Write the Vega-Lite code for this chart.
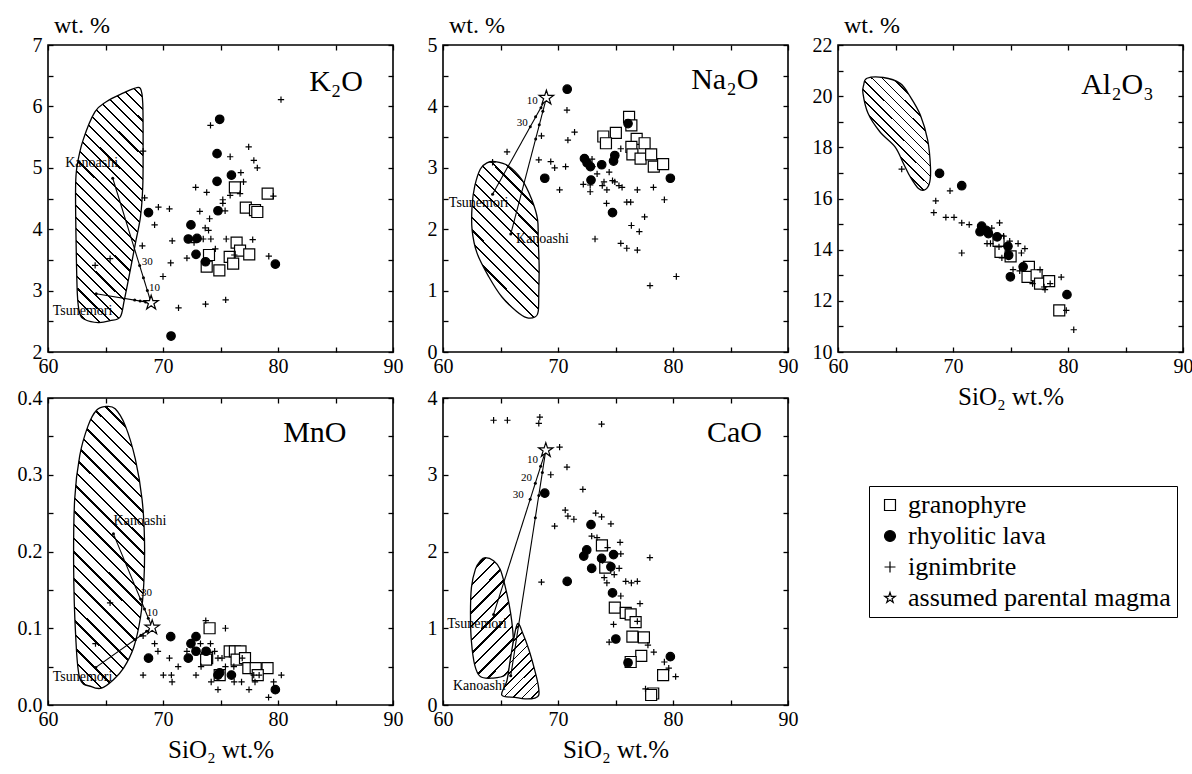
{
"$schema": "https://vega.github.io/schema/vega-lite/v6.json",
"background": "white",
"padding": {"left": 16, "top": 13, "right": 5, "bottom": 5},
"datasets": {
"pts": [
{"p":"K2O","t":"granophyre","x":76.25,"y":4.68},{"p":"K2O","t":"granophyre","x":79.1,"y":4.58},{"p":"K2O","t":"granophyre","x":77.2,"y":4.35},{"p":"K2O","t":"granophyre","x":78.0,"y":4.31},{"p":"K2O","t":"granophyre","x":78.2,"y":4.28},{"p":"K2O","t":"granophyre","x":76.4,"y":3.78},{"p":"K2O","t":"granophyre","x":76.7,"y":3.65},{"p":"K2O","t":"granophyre","x":77.5,"y":3.59},{"p":"K2O","t":"granophyre","x":75.8,"y":3.55},{"p":"K2O","t":"granophyre","x":76.1,"y":3.44},{"p":"K2O","t":"granophyre","x":74.0,"y":3.58},{"p":"K2O","t":"granophyre","x":73.8,"y":3.39},{"p":"K2O","t":"granophyre","x":74.9,"y":3.33},
{"p":"K2O","t":"rhyolitic lava","x":74.93,"y":5.79},{"p":"K2O","t":"rhyolitic lava","x":74.7,"y":5.23},{"p":"K2O","t":"rhyolitic lava","x":75.95,"y":4.88},{"p":"K2O","t":"rhyolitic lava","x":74.7,"y":4.78},{"p":"K2O","t":"rhyolitic lava","x":74.78,"y":4.30},{"p":"K2O","t":"rhyolitic lava","x":68.74,"y":4.27},{"p":"K2O","t":"rhyolitic lava","x":72.43,"y":4.07},{"p":"K2O","t":"rhyolitic lava","x":72.2,"y":3.84},{"p":"K2O","t":"rhyolitic lava","x":72.96,"y":3.85},{"p":"K2O","t":"rhyolitic lava","x":72.87,"y":3.59},{"p":"K2O","t":"rhyolitic lava","x":73.7,"y":3.47},{"p":"K2O","t":"rhyolitic lava","x":79.77,"y":3.43},{"p":"K2O","t":"rhyolitic lava","x":70.7,"y":2.26},
{"p":"K2O","t":"ignimbrite","x":80.26,"y":6.11},{"p":"K2O","t":"ignimbrite","x":74.13,"y":5.69},{"p":"K2O","t":"ignimbrite","x":77.45,"y":5.34},{"p":"K2O","t":"ignimbrite","x":75.84,"y":5.18},{"p":"K2O","t":"ignimbrite","x":77.9,"y":5.12},{"p":"K2O","t":"ignimbrite","x":78.2,"y":5.0},{"p":"K2O","t":"ignimbrite","x":76.77,"y":4.92},{"p":"K2O","t":"ignimbrite","x":77.0,"y":4.77},{"p":"K2O","t":"ignimbrite","x":72.84,"y":4.68},{"p":"K2O","t":"ignimbrite","x":73.8,"y":4.60},{"p":"K2O","t":"ignimbrite","x":76.7,"y":4.58},{"p":"K2O","t":"ignimbrite","x":75.84,"y":4.55},{"p":"K2O","t":"ignimbrite","x":75.2,"y":4.48},{"p":"K2O","t":"ignimbrite","x":75.2,"y":4.42},{"p":"K2O","t":"ignimbrite","x":79.6,"y":4.54},{"p":"K2O","t":"ignimbrite","x":68.4,"y":4.51},{"p":"K2O","t":"ignimbrite","x":69.6,"y":4.36},{"p":"K2O","t":"ignimbrite","x":70.56,"y":4.33},{"p":"K2O","t":"ignimbrite","x":73.2,"y":4.29},{"p":"K2O","t":"ignimbrite","x":75.4,"y":4.30},{"p":"K2O","t":"ignimbrite","x":69.27,"y":4.07},{"p":"K2O","t":"ignimbrite","x":74.05,"y":4.17},{"p":"K2O","t":"ignimbrite","x":73.67,"y":4.02},{"p":"K2O","t":"ignimbrite","x":73.96,"y":3.98},{"p":"K2O","t":"ignimbrite","x":74.16,"y":3.84},{"p":"K2O","t":"ignimbrite","x":73.5,"y":3.84},{"p":"K2O","t":"ignimbrite","x":75.5,"y":3.84},{"p":"K2O","t":"ignimbrite","x":77.8,"y":3.83},{"p":"K2O","t":"ignimbrite","x":70.8,"y":3.81},{"p":"K2O","t":"ignimbrite","x":68.2,"y":3.73},{"p":"K2O","t":"ignimbrite","x":72.7,"y":3.78},{"p":"K2O","t":"ignimbrite","x":74.55,"y":3.68},{"p":"K2O","t":"ignimbrite","x":72.08,"y":3.53},{"p":"K2O","t":"ignimbrite","x":76.2,"y":3.58},{"p":"K2O","t":"ignimbrite","x":79.2,"y":3.56},{"p":"K2O","t":"ignimbrite","x":70.67,"y":3.45},{"p":"K2O","t":"ignimbrite","x":65.4,"y":3.52},{"p":"K2O","t":"ignimbrite","x":64.1,"y":3.41},{"p":"K2O","t":"ignimbrite","x":70.0,"y":3.23},{"p":"K2O","t":"ignimbrite","x":73.7,"y":2.78},{"p":"K2O","t":"ignimbrite","x":75.45,"y":2.85},{"p":"K2O","t":"ignimbrite","x":71.35,"y":2.72},{"p":"K2O","t":"ignimbrite","x":68.27,"y":5.27},
{"p":"K2O","t":"assumed parental magma","x":68.97,"y":2.80},
{"p":"Na2O","t":"granophyre","x":76.18,"y":3.83},{"p":"Na2O","t":"granophyre","x":76.38,"y":3.69},{"p":"Na2O","t":"granophyre","x":73.94,"y":3.51},{"p":"Na2O","t":"granophyre","x":75.03,"y":3.57},{"p":"Na2O","t":"granophyre","x":74.17,"y":3.40},{"p":"Na2O","t":"granophyre","x":76.84,"y":3.47},{"p":"Na2O","t":"granophyre","x":77.53,"y":3.40},{"p":"Na2O","t":"granophyre","x":76.38,"y":3.34},{"p":"Na2O","t":"granophyre","x":76.47,"y":3.22},{"p":"Na2O","t":"granophyre","x":77.18,"y":3.15},{"p":"Na2O","t":"granophyre","x":78.1,"y":3.22},{"p":"Na2O","t":"granophyre","x":78.33,"y":3.02},{"p":"Na2O","t":"granophyre","x":79.14,"y":3.06},
{"p":"Na2O","t":"rhyolitic lava","x":70.8,"y":4.28},{"p":"Na2O","t":"rhyolitic lava","x":76.09,"y":3.72},{"p":"Na2O","t":"rhyolitic lava","x":72.3,"y":3.15},{"p":"Na2O","t":"rhyolitic lava","x":72.53,"y":3.08},{"p":"Na2O","t":"rhyolitic lava","x":72.82,"y":3.02},{"p":"Na2O","t":"rhyolitic lava","x":73.8,"y":3.05},{"p":"Na2O","t":"rhyolitic lava","x":74.94,"y":3.20},{"p":"Na2O","t":"rhyolitic lava","x":74.83,"y":3.11},{"p":"Na2O","t":"rhyolitic lava","x":68.85,"y":2.83},{"p":"Na2O","t":"rhyolitic lava","x":72.87,"y":2.80},{"p":"Na2O","t":"rhyolitic lava","x":74.74,"y":2.27},{"p":"Na2O","t":"rhyolitic lava","x":79.77,"y":2.83},
{"p":"Na2O","t":"ignimbrite","x":70.78,"y":3.94},{"p":"Na2O","t":"ignimbrite","x":70.86,"y":3.45},{"p":"Na2O","t":"ignimbrite","x":71.44,"y":3.58},{"p":"Na2O","t":"ignimbrite","x":68.56,"y":3.52},{"p":"Na2O","t":"ignimbrite","x":68.33,"y":3.13},{"p":"Na2O","t":"ignimbrite","x":69.37,"y":3.10},{"p":"Na2O","t":"ignimbrite","x":69.71,"y":3.0},{"p":"Na2O","t":"ignimbrite","x":70.66,"y":3.02},{"p":"Na2O","t":"ignimbrite","x":70.14,"y":2.64},{"p":"Na2O","t":"ignimbrite","x":65.57,"y":3.26},{"p":"Na2O","t":"ignimbrite","x":64.31,"y":3.09},{"p":"Na2O","t":"ignimbrite","x":72.96,"y":3.14},{"p":"Na2O","t":"ignimbrite","x":73.0,"y":3.02},{"p":"Na2O","t":"ignimbrite","x":72.2,"y":2.73},{"p":"Na2O","t":"ignimbrite","x":72.8,"y":2.72},{"p":"Na2O","t":"ignimbrite","x":72.8,"y":2.61},{"p":"Na2O","t":"ignimbrite","x":73.4,"y":2.90},{"p":"Na2O","t":"ignimbrite","x":74.45,"y":2.93},{"p":"Na2O","t":"ignimbrite","x":74.0,"y":2.77},{"p":"Na2O","t":"ignimbrite","x":73.85,"y":2.71},{"p":"Na2O","t":"ignimbrite","x":74.25,"y":2.64},{"p":"Na2O","t":"ignimbrite","x":74.74,"y":2.79},{"p":"Na2O","t":"ignimbrite","x":74.94,"y":2.77},{"p":"Na2O","t":"ignimbrite","x":75.3,"y":2.71},{"p":"Na2O","t":"ignimbrite","x":75.57,"y":2.68},{"p":"Na2O","t":"ignimbrite","x":75.46,"y":3.31},{"p":"Na2O","t":"ignimbrite","x":74.22,"y":2.42},{"p":"Na2O","t":"ignimbrite","x":75.98,"y":2.44},{"p":"Na2O","t":"ignimbrite","x":76.32,"y":2.44},{"p":"Na2O","t":"ignimbrite","x":76.9,"y":2.64},{"p":"Na2O","t":"ignimbrite","x":78.3,"y":2.68},{"p":"Na2O","t":"ignimbrite","x":79.25,"y":2.48},{"p":"Na2O","t":"ignimbrite","x":77.53,"y":2.20},{"p":"Na2O","t":"ignimbrite","x":76.38,"y":2.06},{"p":"Na2O","t":"ignimbrite","x":77.07,"y":1.96},{"p":"Na2O","t":"ignimbrite","x":73.22,"y":1.84},{"p":"Na2O","t":"ignimbrite","x":75.46,"y":1.77},{"p":"Na2O","t":"ignimbrite","x":75.98,"y":1.69},{"p":"Na2O","t":"ignimbrite","x":76.9,"y":1.66},{"p":"Na2O","t":"ignimbrite","x":80.29,"y":1.23},{"p":"Na2O","t":"ignimbrite","x":78.0,"y":1.08},
{"p":"Na2O","t":"assumed parental magma","x":68.99,"y":4.14},
{"p":"Al2O3","t":"granophyre","x":73.96,"y":14.34},{"p":"Al2O3","t":"granophyre","x":74.13,"y":13.91},{"p":"Al2O3","t":"granophyre","x":75.01,"y":13.74},{"p":"Al2O3","t":"granophyre","x":76.6,"y":13.33},{"p":"Al2O3","t":"granophyre","x":76.48,"y":12.94},{"p":"Al2O3","t":"granophyre","x":77.27,"y":13.0},{"p":"Al2O3","t":"granophyre","x":77.57,"y":12.67},{"p":"Al2O3","t":"granophyre","x":78.36,"y":12.77},{"p":"Al2O3","t":"granophyre","x":79.24,"y":11.63},
{"p":"Al2O3","t":"rhyolitic lava","x":68.83,"y":16.98},{"p":"Al2O3","t":"rhyolitic lava","x":70.76,"y":16.50},{"p":"Al2O3","t":"rhyolitic lava","x":72.49,"y":14.92},{"p":"Al2O3","t":"rhyolitic lava","x":72.35,"y":14.70},{"p":"Al2O3","t":"rhyolitic lava","x":72.87,"y":14.76},{"p":"Al2O3","t":"rhyolitic lava","x":73.08,"y":14.63},{"p":"Al2O3","t":"rhyolitic lava","x":73.84,"y":14.50},{"p":"Al2O3","t":"rhyolitic lava","x":74.78,"y":14.13},{"p":"Al2O3","t":"rhyolitic lava","x":74.84,"y":13.78},{"p":"Al2O3","t":"rhyolitic lava","x":74.99,"y":12.94},{"p":"Al2O3","t":"rhyolitic lava","x":76.1,"y":13.33},{"p":"Al2O3","t":"rhyolitic lava","x":79.91,"y":12.24},
{"p":"Al2O3","t":"ignimbrite","x":65.54,"y":17.15},{"p":"Al2O3","t":"ignimbrite","x":69.74,"y":16.30},{"p":"Al2O3","t":"ignimbrite","x":68.5,"y":15.91},{"p":"Al2O3","t":"ignimbrite","x":68.33,"y":15.45},{"p":"Al2O3","t":"ignimbrite","x":69.38,"y":15.26},{"p":"Al2O3","t":"ignimbrite","x":70.09,"y":15.26},{"p":"Al2O3","t":"ignimbrite","x":70.76,"y":15.05},{"p":"Al2O3","t":"ignimbrite","x":71.41,"y":14.98},{"p":"Al2O3","t":"ignimbrite","x":70.76,"y":13.87},{"p":"Al2O3","t":"ignimbrite","x":73.37,"y":14.84},{"p":"Al2O3","t":"ignimbrite","x":74.05,"y":15.05},{"p":"Al2O3","t":"ignimbrite","x":72.96,"y":14.24},{"p":"Al2O3","t":"ignimbrite","x":73.26,"y":14.24},{"p":"Al2O3","t":"ignimbrite","x":74.4,"y":14.53},{"p":"Al2O3","t":"ignimbrite","x":74.93,"y":14.33},{"p":"Al2O3","t":"ignimbrite","x":74.0,"y":14.11},{"p":"Al2O3","t":"ignimbrite","x":74.25,"y":13.68},{"p":"Al2O3","t":"ignimbrite","x":75.66,"y":14.24},{"p":"Al2O3","t":"ignimbrite","x":76.25,"y":14.04},{"p":"Al2O3","t":"ignimbrite","x":75.95,"y":13.87},{"p":"Al2O3","t":"ignimbrite","x":75.22,"y":13.22},{"p":"Al2O3","t":"ignimbrite","x":75.8,"y":13.17},{"p":"Al2O3","t":"ignimbrite","x":77.57,"y":13.22},{"p":"Al2O3","t":"ignimbrite","x":76.92,"y":12.67},{"p":"Al2O3","t":"ignimbrite","x":77.92,"y":12.54},{"p":"Al2O3","t":"ignimbrite","x":78.45,"y":12.67},{"p":"Al2O3","t":"ignimbrite","x":79.41,"y":12.93},{"p":"Al2O3","t":"ignimbrite","x":79.85,"y":11.63},{"p":"Al2O3","t":"ignimbrite","x":80.5,"y":10.87},{"p":"Al2O3","t":"ignimbrite","x":78.0,"y":12.44},
{"p":"MnO","t":"granophyre","x":74.05,"y":0.100},{"p":"MnO","t":"granophyre","x":75.8,"y":0.070},{"p":"MnO","t":"granophyre","x":76.25,"y":0.070},{"p":"MnO","t":"granophyre","x":76.74,"y":0.070},{"p":"MnO","t":"granophyre","x":73.84,"y":0.061},{"p":"MnO","t":"granophyre","x":76.4,"y":0.059},{"p":"MnO","t":"granophyre","x":77.13,"y":0.061},{"p":"MnO","t":"granophyre","x":77.42,"y":0.048},{"p":"MnO","t":"granophyre","x":78.06,"y":0.048},{"p":"MnO","t":"granophyre","x":79.09,"y":0.048},{"p":"MnO","t":"granophyre","x":78.24,"y":0.039},{"p":"MnO","t":"granophyre","x":74.93,"y":0.039},{"p":"MnO","t":"granophyre","x":73.75,"y":0.059},
{"p":"MnO","t":"rhyolitic lava","x":70.67,"y":0.089},{"p":"MnO","t":"rhyolitic lava","x":72.87,"y":0.089},{"p":"MnO","t":"rhyolitic lava","x":72.43,"y":0.080},{"p":"MnO","t":"rhyolitic lava","x":72.87,"y":0.070},{"p":"MnO","t":"rhyolitic lava","x":73.75,"y":0.070},{"p":"MnO","t":"rhyolitic lava","x":72.2,"y":0.061},{"p":"MnO","t":"rhyolitic lava","x":68.74,"y":0.061},{"p":"MnO","t":"rhyolitic lava","x":74.78,"y":0.039},{"p":"MnO","t":"rhyolitic lava","x":75.95,"y":0.039},{"p":"MnO","t":"rhyolitic lava","x":79.77,"y":0.020},{"p":"MnO","t":"rhyolitic lava","x":74.93,"y":0.042},
{"p":"MnO","t":"ignimbrite","x":73.72,"y":0.110},{"p":"MnO","t":"ignimbrite","x":75.43,"y":0.100},{"p":"MnO","t":"ignimbrite","x":65.4,"y":0.133},{"p":"MnO","t":"ignimbrite","x":64.13,"y":0.080},{"p":"MnO","t":"ignimbrite","x":68.27,"y":0.090},{"p":"MnO","t":"ignimbrite","x":69.27,"y":0.080},{"p":"MnO","t":"ignimbrite","x":69.56,"y":0.070},{"p":"MnO","t":"ignimbrite","x":70.56,"y":0.061},{"p":"MnO","t":"ignimbrite","x":71.32,"y":0.050},{"p":"MnO","t":"ignimbrite","x":68.27,"y":0.039},{"p":"MnO","t":"ignimbrite","x":70.03,"y":0.039},{"p":"MnO","t":"ignimbrite","x":70.73,"y":0.039},{"p":"MnO","t":"ignimbrite","x":70.79,"y":0.030},{"p":"MnO","t":"ignimbrite","x":72.08,"y":0.070},{"p":"MnO","t":"ignimbrite","x":73.26,"y":0.080},{"p":"MnO","t":"ignimbrite","x":74.13,"y":0.080},{"p":"MnO","t":"ignimbrite","x":74.49,"y":0.070},{"p":"MnO","t":"ignimbrite","x":73.31,"y":0.050},{"p":"MnO","t":"ignimbrite","x":72.87,"y":0.039},{"p":"MnO","t":"ignimbrite","x":74.19,"y":0.030},{"p":"MnO","t":"ignimbrite","x":74.78,"y":0.020},{"p":"MnO","t":"ignimbrite","x":74.78,"y":0.061},{"p":"MnO","t":"ignimbrite","x":75.13,"y":0.061},{"p":"MnO","t":"ignimbrite","x":75.43,"y":0.050},{"p":"MnO","t":"ignimbrite","x":76.16,"y":0.050},{"p":"MnO","t":"ignimbrite","x":76.19,"y":0.030},{"p":"MnO","t":"ignimbrite","x":76.83,"y":0.030},{"p":"MnO","t":"ignimbrite","x":77.48,"y":0.020},{"p":"MnO","t":"ignimbrite","x":78.0,"y":0.030},{"p":"MnO","t":"ignimbrite","x":78.36,"y":0.039},{"p":"MnO","t":"ignimbrite","x":79.18,"y":0.010},{"p":"MnO","t":"ignimbrite","x":79.62,"y":0.030},{"p":"MnO","t":"ignimbrite","x":80.29,"y":0.039},{"p":"MnO","t":"ignimbrite","x":76.89,"y":0.061},{"p":"MnO","t":"ignimbrite","x":77.89,"y":0.039},
{"p":"MnO","t":"assumed parental magma","x":69.06,"y":0.101},
{"p":"CaO","t":"granophyre","x":73.82,"y":2.08},{"p":"CaO","t":"granophyre","x":74.11,"y":1.79},{"p":"CaO","t":"granophyre","x":74.94,"y":1.27},{"p":"CaO","t":"granophyre","x":75.89,"y":1.20},{"p":"CaO","t":"granophyre","x":76.32,"y":1.18},{"p":"CaO","t":"granophyre","x":76.75,"y":1.08},{"p":"CaO","t":"granophyre","x":76.47,"y":0.89},{"p":"CaO","t":"granophyre","x":77.47,"y":0.88},{"p":"CaO","t":"granophyre","x":77.24,"y":0.64},{"p":"CaO","t":"granophyre","x":76.32,"y":0.56},{"p":"CaO","t":"granophyre","x":79.14,"y":0.39},{"p":"CaO","t":"granophyre","x":78.28,"y":0.15},{"p":"CaO","t":"granophyre","x":78.1,"y":0.13},
{"p":"CaO","t":"rhyolitic lava","x":68.85,"y":2.76},{"p":"CaO","t":"rhyolitic lava","x":72.87,"y":2.35},{"p":"CaO","t":"rhyolitic lava","x":72.5,"y":2.02},{"p":"CaO","t":"rhyolitic lava","x":72.24,"y":1.94},{"p":"CaO","t":"rhyolitic lava","x":73.79,"y":1.91},{"p":"CaO","t":"rhyolitic lava","x":74.83,"y":1.96},{"p":"CaO","t":"rhyolitic lava","x":72.93,"y":1.78},{"p":"CaO","t":"rhyolitic lava","x":74.6,"y":1.80},{"p":"CaO","t":"rhyolitic lava","x":70.8,"y":1.61},{"p":"CaO","t":"rhyolitic lava","x":74.74,"y":1.46},{"p":"CaO","t":"rhyolitic lava","x":75.03,"y":0.86},{"p":"CaO","t":"rhyolitic lava","x":76.09,"y":0.55},{"p":"CaO","t":"rhyolitic lava","x":79.77,"y":0.63},
{"p":"CaO","t":"ignimbrite","x":64.4,"y":3.71},{"p":"CaO","t":"ignimbrite","x":65.6,"y":3.71},{"p":"CaO","t":"ignimbrite","x":68.42,"y":3.75},{"p":"CaO","t":"ignimbrite","x":68.33,"y":3.67},{"p":"CaO","t":"ignimbrite","x":73.79,"y":3.66},{"p":"CaO","t":"ignimbrite","x":70.14,"y":3.36},{"p":"CaO","t":"ignimbrite","x":70.78,"y":3.10},{"p":"CaO","t":"ignimbrite","x":69.37,"y":3.0},{"p":"CaO","t":"ignimbrite","x":72.16,"y":2.81},{"p":"CaO","t":"ignimbrite","x":70.63,"y":2.54},{"p":"CaO","t":"ignimbrite","x":70.86,"y":2.46},{"p":"CaO","t":"ignimbrite","x":71.38,"y":2.42},{"p":"CaO","t":"ignimbrite","x":69.71,"y":2.33},{"p":"CaO","t":"ignimbrite","x":73.28,"y":2.50},{"p":"CaO","t":"ignimbrite","x":73.79,"y":2.45},{"p":"CaO","t":"ignimbrite","x":74.6,"y":2.36},{"p":"CaO","t":"ignimbrite","x":72.93,"y":2.20},{"p":"CaO","t":"ignimbrite","x":73.39,"y":2.18},{"p":"CaO","t":"ignimbrite","x":75.4,"y":2.12},{"p":"CaO","t":"ignimbrite","x":74.31,"y":2.05},{"p":"CaO","t":"ignimbrite","x":75.46,"y":1.97},{"p":"CaO","t":"ignimbrite","x":77.99,"y":1.92},{"p":"CaO","t":"ignimbrite","x":68.56,"y":1.60},{"p":"CaO","t":"ignimbrite","x":73.88,"y":1.88},{"p":"CaO","t":"ignimbrite","x":75.32,"y":1.78},{"p":"CaO","t":"ignimbrite","x":74.89,"y":1.70},{"p":"CaO","t":"ignimbrite","x":74.02,"y":1.66},{"p":"CaO","t":"ignimbrite","x":74.25,"y":1.59},{"p":"CaO","t":"ignimbrite","x":75.89,"y":1.61},{"p":"CaO","t":"ignimbrite","x":76.38,"y":1.59},{"p":"CaO","t":"ignimbrite","x":76.9,"y":1.61},{"p":"CaO","t":"ignimbrite","x":75.46,"y":1.42},{"p":"CaO","t":"ignimbrite","x":77.13,"y":1.32},{"p":"CaO","t":"ignimbrite","x":74.83,"y":1.05},{"p":"CaO","t":"ignimbrite","x":76.9,"y":1.09},{"p":"CaO","t":"ignimbrite","x":74.45,"y":0.82},{"p":"CaO","t":"ignimbrite","x":77.82,"y":0.78},{"p":"CaO","t":"ignimbrite","x":78.33,"y":0.69},{"p":"CaO","t":"ignimbrite","x":79.25,"y":0.56},{"p":"CaO","t":"ignimbrite","x":79.63,"y":0.48},{"p":"CaO","t":"ignimbrite","x":80.23,"y":0.37},{"p":"CaO","t":"ignimbrite","x":77.61,"y":0.21},
{"p":"CaO","t":"assumed parental magma","x":68.94,"y":3.32}
],
"poly": [
{"g":"K2O","i":1,"x":68.04,"y":6.29},{"g":"K2O","i":2,"x":68.24,"y":6.05},{"g":"K2O","i":3,"x":68.27,"y":5.29},{"g":"K2O","i":4,"x":68.24,"y":4.69},{"g":"K2O","i":5,"x":68.04,"y":4.20},{"g":"K2O","i":6,"x":67.6,"y":3.77},{"g":"K2O","i":7,"x":67.1,"y":3.28},{"g":"K2O","i":8,"x":66.63,"y":2.84},{"g":"K2O","i":9,"x":66.28,"y":2.57},{"g":"K2O","i":10,"x":65.4,"y":2.51},{"g":"K2O","i":11,"x":64.37,"y":2.48},{"g":"K2O","i":12,"x":63.2,"y":2.53},{"g":"K2O","i":13,"x":62.76,"y":2.63},{"g":"K2O","i":14,"x":62.55,"y":2.95},{"g":"K2O","i":15,"x":62.43,"y":3.93},{"g":"K2O","i":16,"x":62.4,"y":4.69},{"g":"K2O","i":17,"x":62.52,"y":5.02},{"g":"K2O","i":18,"x":63.05,"y":5.45},{"g":"K2O","i":19,"x":64.08,"y":5.91},{"g":"K2O","i":20,"x":65.1,"y":6.08},{"g":"K2O","i":21,"x":66.57,"y":6.22},{"g":"K2O","i":22,"x":67.45,"y":6.29},
{"g":"Na2O","i":1,"x":64.54,"y":3.10},{"g":"Na2O","i":2,"x":65.69,"y":3.03},{"g":"Na2O","i":3,"x":66.84,"y":2.81},{"g":"Na2O","i":4,"x":67.70,"y":2.49},{"g":"Na2O","i":5,"x":68.22,"y":2.16},{"g":"Na2O","i":6,"x":68.28,"y":1.83},{"g":"Na2O","i":7,"x":68.36,"y":1.39},{"g":"Na2O","i":8,"x":68.33,"y":0.96},{"g":"Na2O","i":9,"x":68.28,"y":0.66},{"g":"Na2O","i":10,"x":67.99,"y":0.57},{"g":"Na2O","i":11,"x":67.27,"y":0.56},{"g":"Na2O","i":12,"x":66.41,"y":0.66},{"g":"Na2O","i":13,"x":65.11,"y":0.90},{"g":"Na2O","i":14,"x":63.97,"y":1.23},{"g":"Na2O","i":15,"x":62.96,"y":1.61},{"g":"Na2O","i":16,"x":62.53,"y":1.99},{"g":"Na2O","i":17,"x":62.53,"y":2.38},{"g":"Na2O","i":18,"x":62.76,"y":2.70},{"g":"Na2O","i":19,"x":63.25,"y":2.98},{"g":"Na2O","i":20,"x":63.82,"y":3.08},
{"g":"Al2O3","i":1,"x":62.52,"y":20.70},{"g":"Al2O3","i":2,"x":63.93,"y":20.73},{"g":"Al2O3","i":3,"x":65.4,"y":20.5},{"g":"Al2O3","i":4,"x":66.28,"y":19.98},{"g":"Al2O3","i":5,"x":67.16,"y":19.26},{"g":"Al2O3","i":6,"x":67.8,"y":18.28},{"g":"Al2O3","i":7,"x":68.04,"y":17.24},{"g":"Al2O3","i":8,"x":67.98,"y":16.65},{"g":"Al2O3","i":9,"x":67.6,"y":16.35},{"g":"Al2O3","i":10,"x":67.0,"y":16.39},{"g":"Al2O3","i":11,"x":66.28,"y":16.85},{"g":"Al2O3","i":12,"x":65.69,"y":17.37},{"g":"Al2O3","i":13,"x":64.96,"y":18.02},{"g":"Al2O3","i":14,"x":63.64,"y":18.61},{"g":"Al2O3","i":15,"x":62.61,"y":19.33},{"g":"Al2O3","i":16,"x":62.17,"y":20.11},{"g":"Al2O3","i":17,"x":62.23,"y":20.43},
{"g":"MnO","i":1,"x":65.04,"y":0.389},{"g":"MnO","i":2,"x":65.84,"y":0.386},{"g":"MnO","i":3,"x":66.72,"y":0.364},{"g":"MnO","i":4,"x":67.6,"y":0.320},{"g":"MnO","i":5,"x":68.18,"y":0.268},{"g":"MnO","i":6,"x":68.39,"y":0.215},{"g":"MnO","i":7,"x":68.33,"y":0.158},{"g":"MnO","i":8,"x":68.04,"y":0.114},{"g":"MnO","i":9,"x":67.45,"y":0.075},{"g":"MnO","i":10,"x":66.57,"y":0.048},{"g":"MnO","i":11,"x":65.69,"y":0.033},{"g":"MnO","i":12,"x":64.66,"y":0.022},{"g":"MnO","i":13,"x":63.78,"y":0.024},{"g":"MnO","i":14,"x":62.76,"y":0.035},{"g":"MnO","i":15,"x":62.4,"y":0.092},{"g":"MnO","i":16,"x":62.23,"y":0.180},{"g":"MnO","i":17,"x":62.32,"y":0.268},{"g":"MnO","i":18,"x":62.76,"y":0.325},{"g":"MnO","i":19,"x":63.49,"y":0.364},{"g":"MnO","i":20,"x":64.22,"y":0.384},
{"g":"CaO-T","i":1,"x":63.68,"y":1.92},{"g":"CaO-T","i":2,"x":64.40,"y":1.88},{"g":"CaO-T","i":3,"x":64.97,"y":1.77},{"g":"CaO-T","i":4,"x":65.40,"y":1.55},{"g":"CaO-T","i":5,"x":65.75,"y":1.31},{"g":"CaO-T","i":6,"x":65.98,"y":1.09},{"g":"CaO-T","i":7,"x":66.12,"y":0.83},{"g":"CaO-T","i":8,"x":65.98,"y":0.57},{"g":"CaO-T","i":9,"x":65.40,"y":0.39},{"g":"CaO-T","i":10,"x":64.25,"y":0.35},{"g":"CaO-T","i":11,"x":63.25,"y":0.37},{"g":"CaO-T","i":12,"x":62.76,"y":0.52},{"g":"CaO-T","i":13,"x":62.47,"y":0.83},{"g":"CaO-T","i":14,"x":62.39,"y":1.18},{"g":"CaO-T","i":15,"x":62.47,"y":1.53},{"g":"CaO-T","i":16,"x":62.82,"y":1.77},{"g":"CaO-T","i":17,"x":63.25,"y":1.88},
{"g":"CaO-K","i":1,"x":66.49,"y":1.06},{"g":"CaO-K","i":2,"x":66.98,"y":0.92},{"g":"CaO-K","i":3,"x":67.47,"y":0.72},{"g":"CaO-K","i":4,"x":67.93,"y":0.48},{"g":"CaO-K","i":5,"x":68.28,"y":0.26},{"g":"CaO-K","i":6,"x":68.33,"y":0.13},{"g":"CaO-K","i":7,"x":67.99,"y":0.09},{"g":"CaO-K","i":8,"x":67.13,"y":0.08},{"g":"CaO-K","i":9,"x":66.26,"y":0.10},{"g":"CaO-K","i":10,"x":65.11,"y":0.13},{"g":"CaO-K","i":11,"x":65.55,"y":0.31},{"g":"CaO-K","i":12,"x":65.83,"y":0.57},{"g":"CaO-K","i":13,"x":66.12,"y":0.83}
],
"mix": [
{"p":"K2O","x":68.97,"y":2.80,"x2":65.63,"y2":4.83},{"p":"K2O","x":68.97,"y":2.80,"x2":64.19,"y2":2.95},
{"p":"Na2O","x":68.99,"y":4.14,"x2":64.31,"y2":2.57},{"p":"Na2O","x":68.99,"y":4.14,"x2":65.89,"y2":1.92},
{"p":"MnO","x":69.06,"y":0.101,"x2":65.69,"y2":0.223},{"p":"MnO","x":69.06,"y":0.101,"x2":64.16,"y2":0.049},
{"p":"CaO","x":68.94,"y":3.32,"x2":64.4,"y2":1.18},{"p":"CaO","x":68.94,"y":3.32,"x2":65.89,"y2":0.38}
],
"dots": [
{"p":"K2O","x":65.63,"y":4.83},{"p":"K2O","x":64.19,"y":2.95},{"p":"K2O","x":68.64,"y":3.00},{"p":"K2O","x":68.30,"y":3.21},{"p":"K2O","x":67.97,"y":3.41},{"p":"K2O","x":68.49,"y":2.815},{"p":"K2O","x":68.01,"y":2.83},{"p":"K2O","x":67.54,"y":2.845},
{"p":"Na2O","x":64.31,"y":2.57},{"p":"Na2O","x":65.89,"y":1.92},{"p":"Na2O","x":68.52,"y":3.98},{"p":"Na2O","x":68.05,"y":3.83},{"p":"Na2O","x":67.59,"y":3.67},{"p":"Na2O","x":68.68,"y":3.92},{"p":"Na2O","x":68.37,"y":3.70},{"p":"Na2O","x":68.06,"y":3.47},
{"p":"MnO","x":65.69,"y":0.223},{"p":"MnO","x":64.16,"y":0.049},{"p":"MnO","x":68.72,"y":0.113},{"p":"MnO","x":68.39,"y":0.125},{"p":"MnO","x":68.05,"y":0.138},{"p":"MnO","x":68.57,"y":0.096},{"p":"MnO","x":68.08,"y":0.091},{"p":"MnO","x":67.59,"y":0.085},
{"p":"CaO","x":64.4,"y":1.18},{"p":"CaO","x":65.89,"y":0.38},{"p":"CaO","x":68.49,"y":3.11},{"p":"CaO","x":68.03,"y":2.89},{"p":"CaO","x":67.58,"y":2.68},{"p":"CaO","x":68.64,"y":3.03},{"p":"CaO","x":68.33,"y":2.73},{"p":"CaO","x":68.03,"y":2.44}
],
"lbl": [
{"p":"K2O","k":"name","text":"Kanoashi","x":63.8,"y":5.08},{"p":"K2O","k":"name","text":"Tsunemori","x":63.0,"y":2.67},{"p":"K2O","k":"tick","text":"30","x":68.62,"y":3.47},{"p":"K2O","k":"tick","text":"10","x":69.27,"y":3.05},{"p":"K2O","k":"panel","text":"K₂O","x":85.05,"y":6.39},
{"p":"Na2O","k":"name","text":"Tsunemori","x":63.1,"y":2.42},{"p":"Na2O","k":"name","text":"Kanoashi","x":68.65,"y":1.84},{"p":"Na2O","k":"tick","text":"10","x":67.76,"y":4.09},{"p":"Na2O","k":"tick","text":"30","x":66.9,"y":3.73},{"p":"Na2O","k":"panel","text":"Na₂O","x":84.5,"y":4.43},
{"p":"Al2O3","k":"panel","text":"Al₂O₃","x":84.3,"y":20.43},
{"p":"MnO","k":"name","text":"Kanoashi","x":68.0,"y":0.240},{"p":"MnO","k":"name","text":"Tsunemori","x":63.0,"y":0.036},{"p":"MnO","k":"tick","text":"30","x":68.56,"y":0.146},{"p":"MnO","k":"tick","text":"10","x":69.06,"y":0.120},{"p":"MnO","k":"panel","text":"MnO","x":83.2,"y":0.354},
{"p":"CaO","k":"name","text":"Tsunemori","x":62.96,"y":1.06},{"p":"CaO","k":"name","text":"Kanoashi","x":63.16,"y":0.25},{"p":"CaO","k":"tick","text":"10","x":67.79,"y":3.19},{"p":"CaO","k":"tick","text":"20","x":67.27,"y":2.96},{"p":"CaO","k":"tick","text":"30","x":66.55,"y":2.73},{"p":"CaO","k":"panel","text":"CaO","x":85.35,"y":3.54}
]
},
"columns": 3,
"spacing": {"row": 46, "column": 50},
"bounds": "flush",
"resolve": {"scale": {"shape": "shared", "fill": "shared", "stroke": "shared"}, "legend": {"shape": "shared", "fill": "shared", "stroke": "shared"}},
"concat": [
{
"width": 345, "height": 307,
"title": {"text": "wt. %"},
"encoding": {
"x": {"field": "x", "type": "quantitative", "scale": {"domain": [60, 90], "nice": false, "zero": false}, "axis": null},
"y": {"field": "y", "type": "quantitative", "scale": {"domain": [2, 7], "nice": false, "zero": false}, "axis": null}
},
"layer": [
{"data": {"name": "poly"}, "transform": [{"filter": "datum.g === 'K2O'"}],
"mark": {"type": "line", "interpolate": "cardinal-closed", "stroke": "black", "strokeWidth": 1.3,
"fill": {"gradient": "linear", "x1": 0, "y1": 1, "x2": 0.34, "y2": -0.189, "stops": [
{"offset":0,"color":"black"},{"offset":0.0069,"color":"black"},{"offset":0.0069,"color":"white"},{"offset":0.0385,"color":"white"},
{"offset":0.0385,"color":"black"},{"offset":0.0454,"color":"black"},{"offset":0.0454,"color":"white"},{"offset":0.0769,"color":"white"},
{"offset":0.0769,"color":"black"},{"offset":0.0838,"color":"black"},{"offset":0.0838,"color":"white"},{"offset":0.1154,"color":"white"},
{"offset":0.1154,"color":"black"},{"offset":0.1223,"color":"black"},{"offset":0.1223,"color":"white"},{"offset":0.1538,"color":"white"},
{"offset":0.1538,"color":"black"},{"offset":0.1607,"color":"black"},{"offset":0.1607,"color":"white"},{"offset":0.1923,"color":"white"},
{"offset":0.1923,"color":"black"},{"offset":0.1992,"color":"black"},{"offset":0.1992,"color":"white"},{"offset":0.2308,"color":"white"},
{"offset":0.2308,"color":"black"},{"offset":0.2377,"color":"black"},{"offset":0.2377,"color":"white"},{"offset":0.2692,"color":"white"},
{"offset":0.2692,"color":"black"},{"offset":0.2761,"color":"black"},{"offset":0.2761,"color":"white"},{"offset":0.3077,"color":"white"},
{"offset":0.3077,"color":"black"},{"offset":0.3146,"color":"black"},{"offset":0.3146,"color":"white"},{"offset":0.3462,"color":"white"},
{"offset":0.3462,"color":"black"},{"offset":0.3531,"color":"black"},{"offset":0.3531,"color":"white"},{"offset":0.3846,"color":"white"},
{"offset":0.3846,"color":"black"},{"offset":0.3915,"color":"black"},{"offset":0.3915,"color":"white"},{"offset":0.4231,"color":"white"},
{"offset":0.4231,"color":"black"},{"offset":0.4300,"color":"black"},{"offset":0.4300,"color":"white"},{"offset":0.4615,"color":"white"},
{"offset":0.4615,"color":"black"},{"offset":0.4684,"color":"black"},{"offset":0.4684,"color":"white"},{"offset":0.5,"color":"white"},
{"offset":0.5,"color":"black"},{"offset":0.5069,"color":"black"},{"offset":0.5069,"color":"white"},{"offset":0.5385,"color":"white"},
{"offset":0.5385,"color":"black"},{"offset":0.5454,"color":"black"},{"offset":0.5454,"color":"white"},{"offset":0.5769,"color":"white"},
{"offset":0.5769,"color":"black"},{"offset":0.5838,"color":"black"},{"offset":0.5838,"color":"white"},{"offset":0.6154,"color":"white"},
{"offset":0.6154,"color":"black"},{"offset":0.6223,"color":"black"},{"offset":0.6223,"color":"white"},{"offset":0.6538,"color":"white"},
{"offset":0.6538,"color":"black"},{"offset":0.6607,"color":"black"},{"offset":0.6607,"color":"white"},{"offset":0.6923,"color":"white"},
{"offset":0.6923,"color":"black"},{"offset":0.6992,"color":"black"},{"offset":0.6992,"color":"white"},{"offset":0.7308,"color":"white"},
{"offset":0.7308,"color":"black"},{"offset":0.7377,"color":"black"},{"offset":0.7377,"color":"white"},{"offset":0.7692,"color":"white"},
{"offset":0.7692,"color":"black"},{"offset":0.7761,"color":"black"},{"offset":0.7761,"color":"white"},{"offset":0.8077,"color":"white"},
{"offset":0.8077,"color":"black"},{"offset":0.8146,"color":"black"},{"offset":0.8146,"color":"white"},{"offset":0.8462,"color":"white"},
{"offset":0.8462,"color":"black"},{"offset":0.8531,"color":"black"},{"offset":0.8531,"color":"white"},{"offset":0.8846,"color":"white"},
{"offset":0.8846,"color":"black"},{"offset":0.8915,"color":"black"},{"offset":0.8915,"color":"white"},{"offset":0.9231,"color":"white"},
{"offset":0.9231,"color":"black"},{"offset":0.9300,"color":"black"},{"offset":0.9300,"color":"white"},{"offset":0.9615,"color":"white"},
{"offset":0.9615,"color":"black"},{"offset":0.9684,"color":"black"},{"offset":0.9684,"color":"white"},{"offset":1,"color":"white"}]}},
"encoding": {"order": {"field": "i", "type": "quantitative"},
"x": {"field": "x", "type": "quantitative", "scale": {"domain": [60, 90], "nice": false, "zero": false}, "axis": {"orient": "top", "values": [60,65,70,75,80,85,90], "labels": false, "title": null}},
"y": {"field": "y", "type": "quantitative", "scale": {"domain": [2, 7], "nice": false, "zero": false}, "axis": {"orient": "right", "values": [2,2.5,3,3.5,4,4.5,5,5.5,6,6.5,7], "labels": false, "title": null}}}},
{"data": {"name": "mix"}, "transform": [{"filter": "datum.p === 'K2O'"}], "mark": {"type": "rule", "stroke": "black", "strokeWidth": 1.1}, "encoding": {"x2": {"field": "x2"}, "y2": {"field": "y2"}}},
{"data": {"name": "dots"}, "transform": [{"filter": "datum.p === 'K2O'"}], "mark": {"type": "circle", "size": 9, "color": "black", "opacity": 1}},
{"data": {"name": "pts"}, "transform": [{"filter": "datum.p === 'K2O'"}], "mark": {"type": "point", "opacity": 1, "strokeWidth": 1.2},
"encoding": {
"x": {"field": "x", "type": "quantitative", "scale": {"domain": [60, 90], "nice": false, "zero": false}, "axis": {"orient": "bottom", "values": [60,65,70,75,80,85,90], "labelExpr": "datum.value % 10 === 0 ? format(datum.value, 'd') : ''", "title": null}},
"y": {"field": "y", "type": "quantitative", "scale": {"domain": [2, 7], "nice": false, "zero": false}, "axis": {"orient": "left", "values": [2,2.5,3,3.5,4,4.5,5,5.5,6,6.5,7], "labelExpr": "datum.value % 1 === 0 ? format(datum.value, 'd') : ''", "title": null}},
"shape": {"field": "t", "type": "nominal", "scale": {"domain": ["granophyre","rhyolitic lava","ignimbrite","assumed parental magma"], "range": ["square","circle","M-1,0H1M0,-1V1","M0,-1L0.2245,-0.309L0.951,-0.309L0.363,0.118L0.588,0.809L0,0.382L-0.588,0.809L-0.363,0.118L-0.951,-0.309L-0.2245,-0.309Z"]},
"legend": {"title": null, "orient": "none", "legendX": 821, "legendY": 441, "labelLimit": 400}},
"fill": {"field": "t", "type": "nominal", "scale": {"domain": ["granophyre","rhyolitic lava","ignimbrite","assumed parental magma"], "range": ["white","black","black","white"]},
"legend": {"title": null, "orient": "none", "legendX": 821, "legendY": 441, "labelLimit": 400}},
"stroke": {"field": "t", "type": "nominal", "scale": {"domain": ["granophyre","rhyolitic lava","ignimbrite","assumed parental magma"], "range": ["black","black","black","black"]},
"legend": {"title": null, "orient": "none", "legendX": 821, "legendY": 441, "labelLimit": 400}},
"size": {"condition": [{"test": "datum.t === 'granophyre'", "value": 121}, {"test": "datum.t === 'rhyolitic lava'", "value": 72}, {"test": "datum.t === 'ignimbrite'", "value": 40}], "value": 230}}},
{"data": {"name": "lbl"}, "transform": [{"filter": "datum.p === 'K2O' && datum.k === 'name'"}], "mark": {"type": "text", "fontSize": 14, "fill": "black"}, "encoding": {"text": {"field": "text"}}},
{"data": {"name": "lbl"}, "transform": [{"filter": "datum.p === 'K2O' && datum.k === 'tick'"}], "mark": {"type": "text", "fontSize": 11, "fill": "black"}, "encoding": {"text": {"field": "text"}}},
{"data": {"name": "lbl"}, "transform": [{"filter": "datum.p === 'K2O' && datum.k === 'panel'"}], "mark": {"type": "text", "fontSize": 30, "fill": "black"}, "encoding": {"text": {"field": "text"}}}
],
"resolve": {"axis": {"x": "independent", "y": "independent"}}
},
{
"width": 345, "height": 307,
"title": {"text": "wt. %"},
"encoding": {
"x": {"field": "x", "type": "quantitative", "scale": {"domain": [60, 90], "nice": false, "zero": false}, "axis": null},
"y": {"field": "y", "type": "quantitative", "scale": {"domain": [0, 5], "nice": false, "zero": false}, "axis": null}
},
"layer": [
{"data": {"name": "poly"}, "transform": [{"filter": "datum.g === 'Na2O'"}],
"mark": {"type": "line", "interpolate": "cardinal-closed", "stroke": "black", "strokeWidth": 1.3,
"fill": {"gradient": "linear", "x1": 0, "y1": 1, "x2": 0.522, "y2": -0.207, "stops": [
{"offset":0,"color":"black"},{"offset":0.01,"color":"black"},{"offset":0.01,"color":"white"},{"offset":0.0556,"color":"white"},
{"offset":0.0556,"color":"black"},{"offset":0.0656,"color":"black"},{"offset":0.0656,"color":"white"},{"offset":0.1111,"color":"white"},
{"offset":0.1111,"color":"black"},{"offset":0.1211,"color":"black"},{"offset":0.1211,"color":"white"},{"offset":0.1667,"color":"white"},
{"offset":0.1667,"color":"black"},{"offset":0.1767,"color":"black"},{"offset":0.1767,"color":"white"},{"offset":0.2222,"color":"white"},
{"offset":0.2222,"color":"black"},{"offset":0.2322,"color":"black"},{"offset":0.2322,"color":"white"},{"offset":0.2778,"color":"white"},
{"offset":0.2778,"color":"black"},{"offset":0.2878,"color":"black"},{"offset":0.2878,"color":"white"},{"offset":0.3333,"color":"white"},
{"offset":0.3333,"color":"black"},{"offset":0.3433,"color":"black"},{"offset":0.3433,"color":"white"},{"offset":0.3889,"color":"white"},
{"offset":0.3889,"color":"black"},{"offset":0.3989,"color":"black"},{"offset":0.3989,"color":"white"},{"offset":0.4444,"color":"white"},
{"offset":0.4444,"color":"black"},{"offset":0.4544,"color":"black"},{"offset":0.4544,"color":"white"},{"offset":0.5,"color":"white"},
{"offset":0.5,"color":"black"},{"offset":0.51,"color":"black"},{"offset":0.51,"color":"white"},{"offset":0.5556,"color":"white"},
{"offset":0.5556,"color":"black"},{"offset":0.5656,"color":"black"},{"offset":0.5656,"color":"white"},{"offset":0.6111,"color":"white"},
{"offset":0.6111,"color":"black"},{"offset":0.6211,"color":"black"},{"offset":0.6211,"color":"white"},{"offset":0.6667,"color":"white"},
{"offset":0.6667,"color":"black"},{"offset":0.6767,"color":"black"},{"offset":0.6767,"color":"white"},{"offset":0.7222,"color":"white"},
{"offset":0.7222,"color":"black"},{"offset":0.7322,"color":"black"},{"offset":0.7322,"color":"white"},{"offset":0.7778,"color":"white"},
{"offset":0.7778,"color":"black"},{"offset":0.7878,"color":"black"},{"offset":0.7878,"color":"white"},{"offset":0.8333,"color":"white"},
{"offset":0.8333,"color":"black"},{"offset":0.8433,"color":"black"},{"offset":0.8433,"color":"white"},{"offset":0.8889,"color":"white"},
{"offset":0.8889,"color":"black"},{"offset":0.8989,"color":"black"},{"offset":0.8989,"color":"white"},{"offset":0.9444,"color":"white"},
{"offset":0.9444,"color":"black"},{"offset":0.9544,"color":"black"},{"offset":0.9544,"color":"white"},{"offset":1,"color":"white"}]}},
"encoding": {"order": {"field": "i", "type": "quantitative"},
"x": {"field": "x", "type": "quantitative", "scale": {"domain": [60, 90], "nice": false, "zero": false}, "axis": {"orient": "top", "values": [60,65,70,75,80,85,90], "labels": false, "title": null}},
"y": {"field": "y", "type": "quantitative", "scale": {"domain": [0, 5], "nice": false, "zero": false}, "axis": {"orient": "right", "values": [0,0.5,1,1.5,2,2.5,3,3.5,4,4.5,5], "labels": false, "title": null}}}},
{"data": {"name": "mix"}, "transform": [{"filter": "datum.p === 'Na2O'"}], "mark": {"type": "rule", "stroke": "black", "strokeWidth": 1.1}, "encoding": {"x2": {"field": "x2"}, "y2": {"field": "y2"}}},
{"data": {"name": "dots"}, "transform": [{"filter": "datum.p === 'Na2O'"}], "mark": {"type": "circle", "size": 9, "color": "black", "opacity": 1}},
{"data": {"name": "pts"}, "transform": [{"filter": "datum.p === 'Na2O'"}], "mark": {"type": "point", "opacity": 1, "strokeWidth": 1.2},
"encoding": {
"x": {"field": "x", "type": "quantitative", "scale": {"domain": [60, 90], "nice": false, "zero": false}, "axis": {"orient": "bottom", "values": [60,65,70,75,80,85,90], "labelExpr": "datum.value % 10 === 0 ? format(datum.value, 'd') : ''", "title": null}},
"y": {"field": "y", "type": "quantitative", "scale": {"domain": [0, 5], "nice": false, "zero": false}, "axis": {"orient": "left", "values": [0,0.5,1,1.5,2,2.5,3,3.5,4,4.5,5], "labelExpr": "datum.value % 1 === 0 ? format(datum.value, 'd') : ''", "title": null}},
"shape": {"field": "t", "type": "nominal", "scale": {"domain": ["granophyre","rhyolitic lava","ignimbrite","assumed parental magma"], "range": ["square","circle","M-1,0H1M0,-1V1","M0,-1L0.2245,-0.309L0.951,-0.309L0.363,0.118L0.588,0.809L0,0.382L-0.588,0.809L-0.363,0.118L-0.951,-0.309L-0.2245,-0.309Z"]}},
"fill": {"field": "t", "type": "nominal", "scale": {"domain": ["granophyre","rhyolitic lava","ignimbrite","assumed parental magma"], "range": ["white","black","black","white"]}},
"stroke": {"field": "t", "type": "nominal", "scale": {"domain": ["granophyre","rhyolitic lava","ignimbrite","assumed parental magma"], "range": ["black","black","black","black"]}},
"size": {"condition": [{"test": "datum.t === 'granophyre'", "value": 121}, {"test": "datum.t === 'rhyolitic lava'", "value": 72}, {"test": "datum.t === 'ignimbrite'", "value": 40}], "value": 230}}},
{"data": {"name": "lbl"}, "transform": [{"filter": "datum.p === 'Na2O' && datum.k === 'name'"}], "mark": {"type": "text", "fontSize": 14, "fill": "black"}, "encoding": {"text": {"field": "text"}}},
{"data": {"name": "lbl"}, "transform": [{"filter": "datum.p === 'Na2O' && datum.k === 'tick'"}], "mark": {"type": "text", "fontSize": 11, "fill": "black"}, "encoding": {"text": {"field": "text"}}},
{"data": {"name": "lbl"}, "transform": [{"filter": "datum.p === 'Na2O' && datum.k === 'panel'"}], "mark": {"type": "text", "fontSize": 30, "fill": "black"}, "encoding": {"text": {"field": "text"}}}
],
"resolve": {"axis": {"x": "independent", "y": "independent"}}
},
{
"width": 345, "height": 307,
"title": {"text": "wt. %"},
"encoding": {
"x": {"field": "x", "type": "quantitative", "scale": {"domain": [60, 90], "nice": false, "zero": false}, "axis": null},
"y": {"field": "y", "type": "quantitative", "scale": {"domain": [10, 22], "nice": false, "zero": false}, "axis": null}
},
"layer": [
{"data": {"name": "poly"}, "transform": [{"filter": "datum.g === 'Al2O3'"}],
"mark": {"type": "line", "interpolate": "cardinal-closed", "stroke": "black", "strokeWidth": 1.3,
"fill": {"gradient": "linear", "x1": 0, "y1": 1, "x2": 0.703, "y2": -0.177, "stops": [
{"offset":0,"color":"black"},{"offset":0.01,"color":"black"},{"offset":0.01,"color":"white"},{"offset":0.0556,"color":"white"},
{"offset":0.0556,"color":"black"},{"offset":0.0656,"color":"black"},{"offset":0.0656,"color":"white"},{"offset":0.1111,"color":"white"},
{"offset":0.1111,"color":"black"},{"offset":0.1211,"color":"black"},{"offset":0.1211,"color":"white"},{"offset":0.1667,"color":"white"},
{"offset":0.1667,"color":"black"},{"offset":0.1767,"color":"black"},{"offset":0.1767,"color":"white"},{"offset":0.2222,"color":"white"},
{"offset":0.2222,"color":"black"},{"offset":0.2322,"color":"black"},{"offset":0.2322,"color":"white"},{"offset":0.2778,"color":"white"},
{"offset":0.2778,"color":"black"},{"offset":0.2878,"color":"black"},{"offset":0.2878,"color":"white"},{"offset":0.3333,"color":"white"},
{"offset":0.3333,"color":"black"},{"offset":0.3433,"color":"black"},{"offset":0.3433,"color":"white"},{"offset":0.3889,"color":"white"},
{"offset":0.3889,"color":"black"},{"offset":0.3989,"color":"black"},{"offset":0.3989,"color":"white"},{"offset":0.4444,"color":"white"},
{"offset":0.4444,"color":"black"},{"offset":0.4544,"color":"black"},{"offset":0.4544,"color":"white"},{"offset":0.5,"color":"white"},
{"offset":0.5,"color":"black"},{"offset":0.51,"color":"black"},{"offset":0.51,"color":"white"},{"offset":0.5556,"color":"white"},
{"offset":0.5556,"color":"black"},{"offset":0.5656,"color":"black"},{"offset":0.5656,"color":"white"},{"offset":0.6111,"color":"white"},
{"offset":0.6111,"color":"black"},{"offset":0.6211,"color":"black"},{"offset":0.6211,"color":"white"},{"offset":0.6667,"color":"white"},
{"offset":0.6667,"color":"black"},{"offset":0.6767,"color":"black"},{"offset":0.6767,"color":"white"},{"offset":0.7222,"color":"white"},
{"offset":0.7222,"color":"black"},{"offset":0.7322,"color":"black"},{"offset":0.7322,"color":"white"},{"offset":0.7778,"color":"white"},
{"offset":0.7778,"color":"black"},{"offset":0.7878,"color":"black"},{"offset":0.7878,"color":"white"},{"offset":0.8333,"color":"white"},
{"offset":0.8333,"color":"black"},{"offset":0.8433,"color":"black"},{"offset":0.8433,"color":"white"},{"offset":0.8889,"color":"white"},
{"offset":0.8889,"color":"black"},{"offset":0.8989,"color":"black"},{"offset":0.8989,"color":"white"},{"offset":0.9444,"color":"white"},
{"offset":0.9444,"color":"black"},{"offset":0.9544,"color":"black"},{"offset":0.9544,"color":"white"},{"offset":1,"color":"white"}]}},
"encoding": {"order": {"field": "i", "type": "quantitative"},
"x": {"field": "x", "type": "quantitative", "scale": {"domain": [60, 90], "nice": false, "zero": false}, "axis": {"orient": "top", "values": [60,65,70,75,80,85,90], "labels": false, "title": null}},
"y": {"field": "y", "type": "quantitative", "scale": {"domain": [10, 22], "nice": false, "zero": false}, "axis": {"orient": "right", "values": [10,11,12,13,14,15,16,17,18,19,20,21,22], "labels": false, "title": null}}}},
{"data": {"name": "pts"}, "transform": [{"filter": "datum.p === 'Al2O3'"}], "mark": {"type": "point", "opacity": 1, "strokeWidth": 1.2},
"encoding": {
"x": {"field": "x", "type": "quantitative", "scale": {"domain": [60, 90], "nice": false, "zero": false}, "axis": {"orient": "bottom", "values": [60,65,70,75,80,85,90], "labelExpr": "datum.value % 10 === 0 ? format(datum.value, 'd') : ''", "title": "SiO₂ wt.%"}},
"y": {"field": "y", "type": "quantitative", "scale": {"domain": [10, 22], "nice": false, "zero": false}, "axis": {"orient": "left", "values": [10,11,12,13,14,15,16,17,18,19,20,21,22], "labelExpr": "datum.value % 2 === 0 ? format(datum.value, 'd') : ''", "title": null}},
"shape": {"field": "t", "type": "nominal", "scale": {"domain": ["granophyre","rhyolitic lava","ignimbrite","assumed parental magma"], "range": ["square","circle","M-1,0H1M0,-1V1","M0,-1L0.2245,-0.309L0.951,-0.309L0.363,0.118L0.588,0.809L0,0.382L-0.588,0.809L-0.363,0.118L-0.951,-0.309L-0.2245,-0.309Z"]}},
"fill": {"field": "t", "type": "nominal", "scale": {"domain": ["granophyre","rhyolitic lava","ignimbrite","assumed parental magma"], "range": ["white","black","black","white"]}},
"stroke": {"field": "t", "type": "nominal", "scale": {"domain": ["granophyre","rhyolitic lava","ignimbrite","assumed parental magma"], "range": ["black","black","black","black"]}},
"size": {"condition": [{"test": "datum.t === 'granophyre'", "value": 121}, {"test": "datum.t === 'rhyolitic lava'", "value": 72}, {"test": "datum.t === 'ignimbrite'", "value": 40}], "value": 230}}},
{"data": {"name": "lbl"}, "transform": [{"filter": "datum.p === 'Al2O3' && datum.k === 'panel'"}], "mark": {"type": "text", "fontSize": 30, "fill": "black"}, "encoding": {"text": {"field": "text"}}}
],
"resolve": {"axis": {"x": "independent", "y": "independent"}}
},
{
"width": 345, "height": 307,
"encoding": {
"x": {"field": "x", "type": "quantitative", "scale": {"domain": [60, 90], "nice": false, "zero": false}, "axis": null},
"y": {"field": "y", "type": "quantitative", "scale": {"domain": [0, 0.4], "nice": false, "zero": false}, "axis": null}
},
"layer": [
{"data": {"name": "poly"}, "transform": [{"filter": "datum.g === 'MnO'"}],
"mark": {"type": "line", "interpolate": "cardinal-closed", "stroke": "black", "strokeWidth": 1.3,
"fill": {"gradient": "linear", "x1": 0, "y1": 1, "x2": 0.295, "y2": -0.177, "stops": [
{"offset":0,"color":"black"},{"offset":0.0069,"color":"black"},{"offset":0.0069,"color":"white"},{"offset":0.0385,"color":"white"},
{"offset":0.0385,"color":"black"},{"offset":0.0454,"color":"black"},{"offset":0.0454,"color":"white"},{"offset":0.0769,"color":"white"},
{"offset":0.0769,"color":"black"},{"offset":0.0838,"color":"black"},{"offset":0.0838,"color":"white"},{"offset":0.1154,"color":"white"},
{"offset":0.1154,"color":"black"},{"offset":0.1223,"color":"black"},{"offset":0.1223,"color":"white"},{"offset":0.1538,"color":"white"},
{"offset":0.1538,"color":"black"},{"offset":0.1607,"color":"black"},{"offset":0.1607,"color":"white"},{"offset":0.1923,"color":"white"},
{"offset":0.1923,"color":"black"},{"offset":0.1992,"color":"black"},{"offset":0.1992,"color":"white"},{"offset":0.2308,"color":"white"},
{"offset":0.2308,"color":"black"},{"offset":0.2377,"color":"black"},{"offset":0.2377,"color":"white"},{"offset":0.2692,"color":"white"},
{"offset":0.2692,"color":"black"},{"offset":0.2761,"color":"black"},{"offset":0.2761,"color":"white"},{"offset":0.3077,"color":"white"},
{"offset":0.3077,"color":"black"},{"offset":0.3146,"color":"black"},{"offset":0.3146,"color":"white"},{"offset":0.3462,"color":"white"},
{"offset":0.3462,"color":"black"},{"offset":0.3531,"color":"black"},{"offset":0.3531,"color":"white"},{"offset":0.3846,"color":"white"},
{"offset":0.3846,"color":"black"},{"offset":0.3915,"color":"black"},{"offset":0.3915,"color":"white"},{"offset":0.4231,"color":"white"},
{"offset":0.4231,"color":"black"},{"offset":0.4300,"color":"black"},{"offset":0.4300,"color":"white"},{"offset":0.4615,"color":"white"},
{"offset":0.4615,"color":"black"},{"offset":0.4684,"color":"black"},{"offset":0.4684,"color":"white"},{"offset":0.5,"color":"white"},
{"offset":0.5,"color":"black"},{"offset":0.5069,"color":"black"},{"offset":0.5069,"color":"white"},{"offset":0.5385,"color":"white"},
{"offset":0.5385,"color":"black"},{"offset":0.5454,"color":"black"},{"offset":0.5454,"color":"white"},{"offset":0.5769,"color":"white"},
{"offset":0.5769,"color":"black"},{"offset":0.5838,"color":"black"},{"offset":0.5838,"color":"white"},{"offset":0.6154,"color":"white"},
{"offset":0.6154,"color":"black"},{"offset":0.6223,"color":"black"},{"offset":0.6223,"color":"white"},{"offset":0.6538,"color":"white"},
{"offset":0.6538,"color":"black"},{"offset":0.6607,"color":"black"},{"offset":0.6607,"color":"white"},{"offset":0.6923,"color":"white"},
{"offset":0.6923,"color":"black"},{"offset":0.6992,"color":"black"},{"offset":0.6992,"color":"white"},{"offset":0.7308,"color":"white"},
{"offset":0.7308,"color":"black"},{"offset":0.7377,"color":"black"},{"offset":0.7377,"color":"white"},{"offset":0.7692,"color":"white"},
{"offset":0.7692,"color":"black"},{"offset":0.7761,"color":"black"},{"offset":0.7761,"color":"white"},{"offset":0.8077,"color":"white"},
{"offset":0.8077,"color":"black"},{"offset":0.8146,"color":"black"},{"offset":0.8146,"color":"white"},{"offset":0.8462,"color":"white"},
{"offset":0.8462,"color":"black"},{"offset":0.8531,"color":"black"},{"offset":0.8531,"color":"white"},{"offset":0.8846,"color":"white"},
{"offset":0.8846,"color":"black"},{"offset":0.8915,"color":"black"},{"offset":0.8915,"color":"white"},{"offset":0.9231,"color":"white"},
{"offset":0.9231,"color":"black"},{"offset":0.9300,"color":"black"},{"offset":0.9300,"color":"white"},{"offset":0.9615,"color":"white"},
{"offset":0.9615,"color":"black"},{"offset":0.9684,"color":"black"},{"offset":0.9684,"color":"white"},{"offset":1,"color":"white"}]}},
"encoding": {"order": {"field": "i", "type": "quantitative"},
"x": {"field": "x", "type": "quantitative", "scale": {"domain": [60, 90], "nice": false, "zero": false}, "axis": {"orient": "top", "values": [60,65,70,75,80,85,90], "labels": false, "title": null}},
"y": {"field": "y", "type": "quantitative", "scale": {"domain": [0, 0.4], "nice": false, "zero": false}, "axis": {"orient": "right", "values": [0,0.05,0.1,0.15,0.2,0.25,0.3,0.35,0.4], "labels": false, "title": null}}}},
{"data": {"name": "mix"}, "transform": [{"filter": "datum.p === 'MnO'"}], "mark": {"type": "rule", "stroke": "black", "strokeWidth": 1.1}, "encoding": {"x2": {"field": "x2"}, "y2": {"field": "y2"}}},
{"data": {"name": "dots"}, "transform": [{"filter": "datum.p === 'MnO'"}], "mark": {"type": "circle", "size": 9, "color": "black", "opacity": 1}},
{"data": {"name": "pts"}, "transform": [{"filter": "datum.p === 'MnO'"}], "mark": {"type": "point", "opacity": 1, "strokeWidth": 1.2},
"encoding": {
"x": {"field": "x", "type": "quantitative", "scale": {"domain": [60, 90], "nice": false, "zero": false}, "axis": {"orient": "bottom", "values": [60,65,70,75,80,85,90], "labelExpr": "datum.value % 10 === 0 ? format(datum.value, 'd') : ''", "title": "SiO₂ wt.%"}},
"y": {"field": "y", "type": "quantitative", "scale": {"domain": [0, 0.4], "nice": false, "zero": false}, "axis": {"orient": "left", "values": [0,0.05,0.1,0.15,0.2,0.25,0.3,0.35,0.4], "labelExpr": "abs(datum.value * 10 - round(datum.value * 10)) < 0.001 ? format(datum.value, '.1f') : ''", "title": null}},
"shape": {"field": "t", "type": "nominal", "scale": {"domain": ["granophyre","rhyolitic lava","ignimbrite","assumed parental magma"], "range": ["square","circle","M-1,0H1M0,-1V1","M0,-1L0.2245,-0.309L0.951,-0.309L0.363,0.118L0.588,0.809L0,0.382L-0.588,0.809L-0.363,0.118L-0.951,-0.309L-0.2245,-0.309Z"]}},
"fill": {"field": "t", "type": "nominal", "scale": {"domain": ["granophyre","rhyolitic lava","ignimbrite","assumed parental magma"], "range": ["white","black","black","white"]}},
"stroke": {"field": "t", "type": "nominal", "scale": {"domain": ["granophyre","rhyolitic lava","ignimbrite","assumed parental magma"], "range": ["black","black","black","black"]}},
"size": {"condition": [{"test": "datum.t === 'granophyre'", "value": 121}, {"test": "datum.t === 'rhyolitic lava'", "value": 72}, {"test": "datum.t === 'ignimbrite'", "value": 40}], "value": 230}}},
{"data": {"name": "lbl"}, "transform": [{"filter": "datum.p === 'MnO' && datum.k === 'name'"}], "mark": {"type": "text", "fontSize": 14, "fill": "black"}, "encoding": {"text": {"field": "text"}}},
{"data": {"name": "lbl"}, "transform": [{"filter": "datum.p === 'MnO' && datum.k === 'tick'"}], "mark": {"type": "text", "fontSize": 11, "fill": "black"}, "encoding": {"text": {"field": "text"}}},
{"data": {"name": "lbl"}, "transform": [{"filter": "datum.p === 'MnO' && datum.k === 'panel'"}], "mark": {"type": "text", "fontSize": 30, "fill": "black"}, "encoding": {"text": {"field": "text"}}}
],
"resolve": {"axis": {"x": "independent", "y": "independent"}}
},
{
"width": 345, "height": 307,
"encoding": {
"x": {"field": "x", "type": "quantitative", "scale": {"domain": [60, 90], "nice": false, "zero": false}, "axis": null},
"y": {"field": "y", "type": "quantitative", "scale": {"domain": [0, 4], "nice": false, "zero": false}, "axis": null}
},
"layer": [
{"data": {"name": "poly"}, "transform": [{"filter": "datum.g === 'CaO-T'"}],
"mark": {"type": "line", "interpolate": "cardinal-closed", "stroke": "black", "strokeWidth": 1.3,
"fill": {"gradient": "linear", "x1": 0, "y1": 0, "x2": 0.43, "y2": 1.204, "stops": [
{"offset":0,"color":"white"},{"offset":0.0833,"color":"white"},{"offset":0.0833,"color":"black"},{"offset":0.0983,"color":"black"},
{"offset":0.0983,"color":"white"},{"offset":0.1667,"color":"white"},{"offset":0.1667,"color":"black"},{"offset":0.1817,"color":"black"},
{"offset":0.1817,"color":"white"},{"offset":0.25,"color":"white"},{"offset":0.25,"color":"black"},{"offset":0.265,"color":"black"},
{"offset":0.265,"color":"white"},{"offset":0.3333,"color":"white"},{"offset":0.3333,"color":"black"},{"offset":0.3483,"color":"black"},
{"offset":0.3483,"color":"white"},{"offset":0.4167,"color":"white"},{"offset":0.4167,"color":"black"},{"offset":0.4317,"color":"black"},
{"offset":0.4317,"color":"white"},{"offset":0.5,"color":"white"},{"offset":0.5,"color":"black"},{"offset":0.515,"color":"black"},
{"offset":0.515,"color":"white"},{"offset":0.5833,"color":"white"},{"offset":0.5833,"color":"black"},{"offset":0.5983,"color":"black"},
{"offset":0.5983,"color":"white"},{"offset":0.6667,"color":"white"},{"offset":0.6667,"color":"black"},{"offset":0.6817,"color":"black"},
{"offset":0.6817,"color":"white"},{"offset":0.75,"color":"white"},{"offset":0.75,"color":"black"},{"offset":0.765,"color":"black"},
{"offset":0.765,"color":"white"},{"offset":0.8333,"color":"white"},{"offset":0.8333,"color":"black"},{"offset":0.8483,"color":"black"},
{"offset":0.8483,"color":"white"},{"offset":0.9167,"color":"white"},{"offset":0.9167,"color":"black"},{"offset":0.9317,"color":"black"},
{"offset":0.9317,"color":"white"},{"offset":1,"color":"white"}]}},
"encoding": {"order": {"field": "i", "type": "quantitative"},
"x": {"field": "x", "type": "quantitative", "scale": {"domain": [60, 90], "nice": false, "zero": false}, "axis": {"orient": "top", "values": [60,65,70,75,80,85,90], "labels": false, "title": null}},
"y": {"field": "y", "type": "quantitative", "scale": {"domain": [0, 4], "nice": false, "zero": false}, "axis": {"orient": "right", "values": [0,0.5,1,1.5,2,2.5,3,3.5,4], "labels": false, "title": null}}}},
{"data": {"name": "poly"}, "transform": [{"filter": "datum.g === 'CaO-K'"}],
"mark": {"type": "line", "interpolate": "cardinal-closed", "stroke": "black", "strokeWidth": 1.3,
"fill": {"gradient": "linear", "x1": 0, "y1": 0, "x2": 0.593, "y2": 1.201, "stops": [
{"offset":0,"color":"white"},{"offset":0.0833,"color":"white"},{"offset":0.0833,"color":"black"},{"offset":0.0983,"color":"black"},
{"offset":0.0983,"color":"white"},{"offset":0.1667,"color":"white"},{"offset":0.1667,"color":"black"},{"offset":0.1817,"color":"black"},
{"offset":0.1817,"color":"white"},{"offset":0.25,"color":"white"},{"offset":0.25,"color":"black"},{"offset":0.265,"color":"black"},
{"offset":0.265,"color":"white"},{"offset":0.3333,"color":"white"},{"offset":0.3333,"color":"black"},{"offset":0.3483,"color":"black"},
{"offset":0.3483,"color":"white"},{"offset":0.4167,"color":"white"},{"offset":0.4167,"color":"black"},{"offset":0.4317,"color":"black"},
{"offset":0.4317,"color":"white"},{"offset":0.5,"color":"white"},{"offset":0.5,"color":"black"},{"offset":0.515,"color":"black"},
{"offset":0.515,"color":"white"},{"offset":0.5833,"color":"white"},{"offset":0.5833,"color":"black"},{"offset":0.5983,"color":"black"},
{"offset":0.5983,"color":"white"},{"offset":0.6667,"color":"white"},{"offset":0.6667,"color":"black"},{"offset":0.6817,"color":"black"},
{"offset":0.6817,"color":"white"},{"offset":0.75,"color":"white"},{"offset":0.75,"color":"black"},{"offset":0.765,"color":"black"},
{"offset":0.765,"color":"white"},{"offset":0.8333,"color":"white"},{"offset":0.8333,"color":"black"},{"offset":0.8483,"color":"black"},
{"offset":0.8483,"color":"white"},{"offset":0.9167,"color":"white"},{"offset":0.9167,"color":"black"},{"offset":0.9317,"color":"black"},
{"offset":0.9317,"color":"white"},{"offset":1,"color":"white"}]}},
"encoding": {"order": {"field": "i", "type": "quantitative"}}},
{"data": {"name": "mix"}, "transform": [{"filter": "datum.p === 'CaO'"}], "mark": {"type": "rule", "stroke": "black", "strokeWidth": 1.1}, "encoding": {"x2": {"field": "x2"}, "y2": {"field": "y2"}}},
{"data": {"name": "dots"}, "transform": [{"filter": "datum.p === 'CaO'"}], "mark": {"type": "circle", "size": 9, "color": "black", "opacity": 1}},
{"data": {"name": "pts"}, "transform": [{"filter": "datum.p === 'CaO'"}], "mark": {"type": "point", "opacity": 1, "strokeWidth": 1.2},
"encoding": {
"x": {"field": "x", "type": "quantitative", "scale": {"domain": [60, 90], "nice": false, "zero": false}, "axis": {"orient": "bottom", "values": [60,65,70,75,80,85,90], "labelExpr": "datum.value % 10 === 0 ? format(datum.value, 'd') : ''", "title": "SiO₂ wt.%"}},
"y": {"field": "y", "type": "quantitative", "scale": {"domain": [0, 4], "nice": false, "zero": false}, "axis": {"orient": "left", "values": [0,0.5,1,1.5,2,2.5,3,3.5,4], "labelExpr": "datum.value % 1 === 0 ? format(datum.value, 'd') : ''", "title": null}},
"shape": {"field": "t", "type": "nominal", "scale": {"domain": ["granophyre","rhyolitic lava","ignimbrite","assumed parental magma"], "range": ["square","circle","M-1,0H1M0,-1V1","M0,-1L0.2245,-0.309L0.951,-0.309L0.363,0.118L0.588,0.809L0,0.382L-0.588,0.809L-0.363,0.118L-0.951,-0.309L-0.2245,-0.309Z"]}},
"fill": {"field": "t", "type": "nominal", "scale": {"domain": ["granophyre","rhyolitic lava","ignimbrite","assumed parental magma"], "range": ["white","black","black","white"]}},
"stroke": {"field": "t", "type": "nominal", "scale": {"domain": ["granophyre","rhyolitic lava","ignimbrite","assumed parental magma"], "range": ["black","black","black","black"]}},
"size": {"condition": [{"test": "datum.t === 'granophyre'", "value": 121}, {"test": "datum.t === 'rhyolitic lava'", "value": 72}, {"test": "datum.t === 'ignimbrite'", "value": 40}], "value": 230}}},
{"data": {"name": "lbl"}, "transform": [{"filter": "datum.p === 'CaO' && datum.k === 'name'"}], "mark": {"type": "text", "fontSize": 14, "fill": "black"}, "encoding": {"text": {"field": "text"}}},
{"data": {"name": "lbl"}, "transform": [{"filter": "datum.p === 'CaO' && datum.k === 'tick'"}], "mark": {"type": "text", "fontSize": 11, "fill": "black"}, "encoding": {"text": {"field": "text"}}},
{"data": {"name": "lbl"}, "transform": [{"filter": "datum.p === 'CaO' && datum.k === 'panel'"}], "mark": {"type": "text", "fontSize": 30, "fill": "black"}, "encoding": {"text": {"field": "text"}}}
],
"resolve": {"axis": {"x": "independent", "y": "independent"}}
}
],
"config": {
"font": "Liberation Serif",
"view": {"stroke": "black", "strokeWidth": 1.6},
"axis": {"domain": false, "grid": false, "ticks": true, "tickSize": -5, "tickWidth": 1.3, "tickColor": "black", "labelFont": "Liberation Serif", "labelFontSize": 20, "labelColor": "black", "labelPadding": 11, "labelFlush": false, "labelOverlap": false, "titleFont": "Liberation Serif", "titleFontSize": 25, "titleFontWeight": "normal", "titleColor": "black", "titlePadding": 8},
"axisX": {"labelPadding": 9},
"title": {"font": "Liberation Serif", "fontSize": 24, "fontWeight": "normal", "color": "black", "anchor": "start", "frame": "group", "dx": 6, "offset": -3, "baseline": "alphabetic"},
"text": {"font": "Liberation Serif", "color": "black"},
"legend": {"labelFont": "Liberation Serif", "labelFontSize": 26, "labelColor": "black", "strokeColor": "black", "fillColor": "white", "padding": 6, "symbolSize": 120, "symbolStrokeWidth": 1.2, "rowPadding": 5, "labelOffset": 5, "symbolOffset": 2, "cornerRadius": 0}
}
}
